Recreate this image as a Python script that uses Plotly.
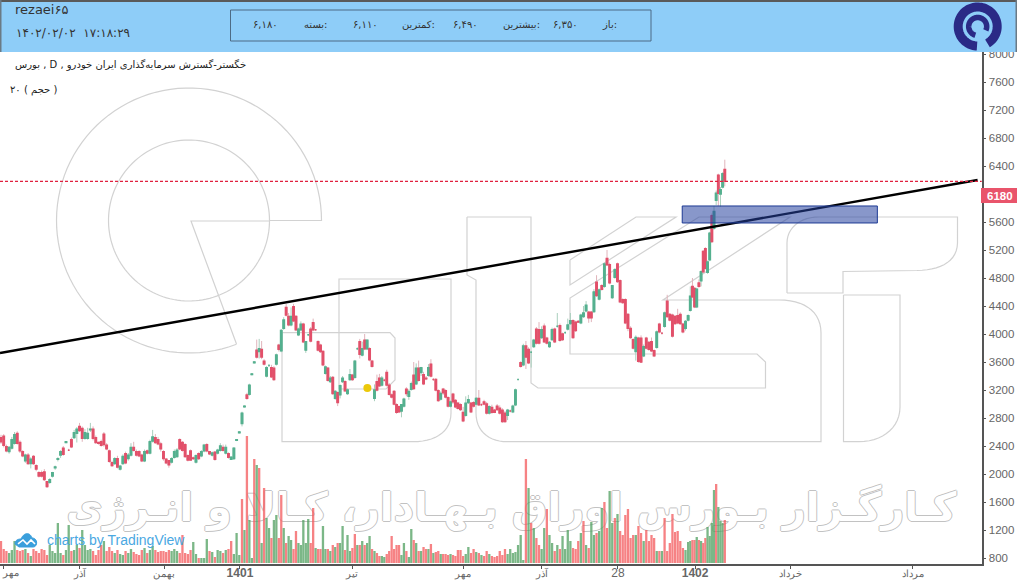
import numpy as np
import plotly.graph_objects as go

W, H = 1017, 583
PLOT_L, PLOT_R, PLOT_T, PLOT_B = 0, 981.7, 52, 564

# Daily candles, oldest first (prices in rials)
open_px = [
    2520,2540,2390,2320,2370,2440,2580,2450,2320,2190,
    2270,2150,2250,2120,2020,2020,2030,1890,1880,1970,
    2090,2210,2270,2370,2450,2340,2490,2520,2580,2680,
    2650,2510,2510,2630,2640,2520,2450,2460,2570,2410,
    2330,2160,2150,2220,2070,2150,2290,2220,2270,2380,
    2320,2320,2270,2190,2330,2300,2470,2520,2490,2430,
    2320,2210,2190,2170,2240,2250,2490,2450,2420,2260,
    2330,2230,2170,2290,2260,2330,2420,2320,2270,2310,
    2300,2340,2380,2300,2290,2210,2220,2480,2590,
    2720,2960,3130,3140,3420,3590,3770,3750,3780,3610,
    3400,3550,3520,3510,3570,3840,3760,4080,4380,4250,
    4130,4390,4250,3990,4060,4140,3770,3990,4070,4160,
    4060,3890,3840,3750,3440,3510,3320,3380,3080,3160,
    3130,3320,3320,3150,3350,3410,3380,3790,3890,3700,
    3910,3790,3790,3610,3080,3320,3370,3270,3340,3450,
    3270,3130,3180,2990,2960,2900,2970,3210,3110,3210,
    3410,3290,3510,3450,3420,3370,3410,3570,3350,3350,
    3190,3070,3210,3190,3090,2970,3140,3050,3010,
    2990,2880,2840,3020,3010,3020,3000,3080,2990,3030,
    3000,2870,2950,2910,2970,2940,2910,2870,2840,2900,
    2890,2990,3350,3590,3560,3830,3780,3740,3820,4070,
    4060,3950,4110,3940,3820,3920,4070,4110,4120,4000,
    4020,4070,4150,4190,4170,4180,4160,4250,4330,4310,
    4310,4320,4740,4500,4690,4680,5080,4990,4520,4810,
    5000,4760,4490,4490,4280,4080,3920,3750,3940,3940,
    3690,3940,3880,3890,3760,3810,4140,4010,4110,4470,
    4280,4270,4250,4260,4280,4140,4080,4200,
    4340,4680,4650,4390,4730,4760,5180,5220,4880,5060,
    5690,5510,5910,6270,6000,6100,6350,
]
high_px = [
    2560,2570,2420,2400,2530,2600,2610,2480,2340,2290,
    2300,2240,2270,2140,2040,2050,2070,1900,1940,2030,
    2120,2240,2340,2400,2470,2360,2520,2630,2670,2730,
    2680,2640,2660,2730,2680,2550,2460,2490,2600,2440,
    2350,2190,2240,2260,2130,2280,2320,2300,2440,2460,
    2350,2340,2290,2350,2350,2490,2630,2570,2530,2460,
    2340,2230,2200,2240,2350,2370,2510,2470,2440,2280,
    2350,2250,2280,2310,2340,2430,2440,2330,2320,2330,
    2360,2440,2420,2420,2310,2250,2380,2500,2610,
    2890,2980,3160,3290,3440,3610,3920,3930,3900,3640,
    3540,3570,3560,3540,3720,3860,4070,4240,4430,4300,
    4380,4430,4270,4090,4180,4160,3900,4000,4100,4220,
    4070,3910,3860,3770,3550,3530,3400,3400,3200,3180,
    3280,3400,3340,3220,3500,3430,3630,3810,3930,3890,
    4000,3920,3810,3630,3280,3420,3430,3400,3360,3490,
    3300,3150,3200,3010,2980,3000,3090,3240,3210,3320,
    3600,3580,3620,3530,3460,3400,3570,3640,3370,3370,
    3210,3180,3230,3210,3110,3050,3160,3070,3030,
    3010,2960,3110,3130,3030,3040,3100,3200,3010,3060,
    3030,2980,2990,2930,3000,2980,2940,2900,2930,2920,
    2990,3220,3360,3610,3860,3900,3810,3760,3930,4100,
    4170,4110,4150,3960,3900,4090,4090,4300,4150,4020,
    4040,4220,4300,4210,4190,4200,4290,4400,4470,4330,
    4330,4640,4840,4650,4710,5020,5200,5020,4700,4940,
    5020,4780,4510,4510,4300,4110,3940,3980,3960,3980,
    3850,3960,3900,3950,3780,4050,4160,4030,4320,4560,
    4300,4290,4270,4360,4310,4160,4200,4280,
    4680,4800,4670,4660,4780,4910,5200,5240,5050,5460,
    5720,5830,6050,6290,6100,6310,6490,
]
low_px = [
    2430,2380,2310,2290,2350,2420,2420,2300,2240,2160,
    2130,2080,2130,2040,1950,1950,1900,1800,1860,1950,
    2060,2180,2230,2260,2440,2330,2370,2500,2450,2600,
    2460,2490,2490,2600,2480,2430,2420,2390,2390,2340,
    2160,2100,2130,2080,2050,2130,2140,2190,2250,2320,
    2250,2240,2170,2170,2280,2280,2450,2430,2410,2320,
    2190,2140,2090,2150,2220,2230,2340,2320,2230,2180,
    2190,2200,2150,2200,2240,2310,2310,2270,2250,2190,
    2280,2320,2320,2280,2220,2200,2200,2470,2580,
    2680,2950,3060,3120,3410,3580,3650,3650,3640,3550,
    3380,3530,3370,3330,3550,3750,3740,4060,4250,4110,
    4110,4170,4040,3970,4040,3870,3730,3970,3880,4040,
    4050,3750,3730,3540,3420,3320,3300,3130,3060,2970,
    3080,3300,3170,3130,3330,3330,3360,3770,3650,3680,
    3770,3770,3610,3520,3040,3180,3240,3250,3320,3250,
    3120,3080,2980,2860,2870,2810,2950,3110,3060,3190,
    3200,3270,3320,3400,3270,3340,3390,3380,3330,3180,
    3030,3050,3130,3080,2950,2950,3000,2940,2920,
    2900,2740,2820,3000,2870,2950,2980,2970,2970,2980,
    2850,2850,2860,2870,2900,2850,2730,2730,2770,2880,
    2870,2970,3340,3520,3540,3500,3570,3520,3800,3850,
    3850,3930,3870,3850,3800,3900,3870,4090,3890,3900,
    4000,4050,4130,3930,4030,4160,4140,4230,4310,4160,
    4170,4300,4530,4480,4620,4660,4970,4710,4500,4790,
    4730,4440,4430,4140,4040,3930,3780,3620,3590,3590,
    3670,3780,3760,3740,3670,3790,4010,3990,4090,4230,
    4180,3950,4130,4140,4130,4010,4050,4180,
    4320,4510,4370,4370,4660,4680,4870,4920,4860,5040,
    5300,5490,5840,5830,5820,6080,6110,
]
close_px = [
    2460,2410,2330,2380,2490,2560,2440,2330,2260,2270,
    2150,2210,2150,2070,1970,1970,1920,1820,1920,2020,
    2100,2220,2320,2280,2460,2340,2390,2590,2640,2620,
    2510,2590,2580,2640,2510,2450,2440,2410,2420,2360,
    2180,2120,2220,2100,2110,2250,2160,2270,2380,2340,
    2270,2260,2190,2320,2300,2460,2530,2450,2430,2360,
    2220,2160,2130,2220,2320,2340,2360,2340,2250,2200,
    2200,2220,2260,2220,2320,2410,2330,2290,2300,2210,
    2340,2400,2340,2380,2240,2240,2370,2490,2600,
    2870,2970,3080,3270,3430,3600,3670,3790,3670,3570,
    3520,3550,3390,3350,3700,3780,4050,4200,4270,4130,
    4250,4190,4060,4070,4140,3890,3890,3990,3900,4060,
    4060,3770,3750,3560,3530,3340,3370,3150,3180,3020,
    3260,3370,3190,3200,3420,3350,3610,3790,3710,3790,
    3790,3910,3630,3540,3200,3200,3260,3370,3340,3270,
    3140,3100,3000,2880,2890,2990,3070,3150,3180,3290,
    3220,3510,3340,3520,3290,3360,3520,3400,3350,3200,
    3050,3150,3160,3100,2970,3030,3030,2960,2940,
    2920,2760,3010,3060,2890,2970,3080,2990,2990,3000,
    2870,2960,2880,2880,2920,2870,2750,2750,2910,2900,
    2970,3200,3350,3540,3830,3670,3590,3740,3910,3870,
    3870,4060,3890,3870,3880,4060,3890,4110,3910,3920,
    4020,4130,4190,3950,4050,4170,4270,4300,4410,4230,
    4230,4600,4550,4630,4640,5000,4990,4730,4690,4920,
    4750,4460,4450,4160,4080,3950,3800,3950,3610,3600,
    3820,3800,3780,3760,3690,4030,4030,4010,4300,4250,
    4200,3970,4150,4160,4150,4030,4180,4260,
    4540,4530,4390,4640,4680,4890,4890,4940,5030,5440,
    5320,5750,6010,6010,6060,6290,6180,
]
# Traded volume per session, in millions of shares
volume = [
    22,14,12,10,13,22,13,12,13,14, 10,7,14,12,10,14,13,8,18,12,
    10,40,10,8,13,38,12,13,18,15, 33,18,13,14,12,8,13,18,22,12,
    16,12,10,13,9,8,12,10,14,11, 9,8,13,15,10,13,17,13,11,12,
    12,11,13,12,14,12,10,28,10,9, 13,21,9,5,5,5,24,12,11,6,
    13,12,10,13,14,22,9,30,8,
    64,33,127,43,5,104,98,95,20,75, 45,35,25,43,48,25,68,35,20,27,
    23,14,32,20,18,43,20,44,20,55, 15,14,14,37,14,14,12,18,16,20,20,
    37,13,28,12,15,29,18,18,22,18, 20,27,14,12,10,7,7,6,9,12,
    27,14,18,18,8,20,12,6,34,23, 20,12,12,16,14,14,19,10,11,12,
    9,9,9,8,9,8,7,13,
    13,7,9,16,10,14,11,10,8,7, 12,9,7,6,7,12,8,14,9,14,
    10,11,18,28,3,104,75,40,35,25, 18,14,35,54,28,20,12,18,14,27,
    14,33,22,15,14,22,30,42,18,15, 41,28,30,32,55,61,35,72,40,45,
    49,32,28,48,54,25,28,28,37,30, 22,33,22,28,25,12,12,12,45,12,
    20,49,31,32,22,15,13,
    21,22,23,23,26,23,22,20,25,36, 27,40,73,79,56,42,40,43,
]
# Sessions whose volume bar colour differs from the candle direction
volume_green = [21,25,30,38,53,71,76,87,90,92,95,97,99,102,103,108,114,116,122,130,
                132,138,141,158,181,201,204,210,212,217,219,228,232,235,238,274,276,279,281]
volume_red = [67,85,89,91,94,96,98,105,111,118,135,150,166,203,205,211,225,233,237,241,
              242,246,249,256,259,278]

# Bar spacing is not even over the period because of market closures
session_anchor_bar = [0, 89, 177, 265, 282]
session_anchor_pos = [0, 94, 178.2, 268, 282.3]

# Time axis labels
BIG = '<span style="font-size:12px">{}</span>'
tick_sessions = [0.8, 30.8, 63.6, 93.2, 136.9, 180.2, 211, 240.6, 270.7, 308.1, 355.7]
tick_labels = [" ", "آذر", "بهمن", BIG.format("<b>1401</b>"), "تیر", "مهر", "آذر", BIG.format("28"),
               BIG.format("<b>1402</b>"), "خرداد", "مرداد"]
price_ticks = list(range(800, 8001, 400))

# Drawn analysis objects
trend_sessions = [-0.39, 380.9]
trend_prices = [3729, 6200]
zone_sessions = [265.7, 341.8]
zone_prices = [5586, 5829]
last_price = 6180
event_session, event_price = 142.9, 3229

GREEN_BODY, RED_BODY = "#54b08f", "#e2506a"
GREEN_WICK, RED_WICK = "#a9cfbd", "#e0b4bb"
GREEN_VOL, RED_VOL = "#4f9f5f", "#f4595c"
WM = "#d2d2d2"

assert len(open_px) == len(high_px) == len(low_px) == len(close_px) == len(volume)
sessions = np.interp(np.arange(len(open_px)), session_anchor_bar, session_anchor_pos)


def px(x):
    return x / W


def py(y):
    return 1 - y / H


def poly(points, close=False):
    s = "M" + " L".join(f"{px(x):.5f},{py(y):.5f}" for x, y in points)
    return s + (" Z" if close else "")


def arc_pts(cx, cy, r, a0, a1, n=90):
    t = np.radians(np.linspace(a0, a1, n))
    return list(zip(cx + r * np.cos(t), cy + r * np.sin(t)))


def outline(points, color=WM, width=1.2, fill=None, close=False):
    d = dict(type="path", path=poly(points, close), xref="paper", yref="paper",
             line=dict(color=color, width=width), layer="below")
    if fill:
        d["fillcolor"] = fill
    return d


def bez(p0, c1, c2, p1, n=14):
    t = np.linspace(0, 1, n)[:, None]
    p0, c1, c2, p1 = map(np.array, (p0, c1, c2, p1))
    pts = (1 - t) ** 3 * p0 + 3 * (1 - t) ** 2 * t * c1 + 3 * (1 - t) * t ** 2 * c2 + t ** 3 * p1
    return [tuple(p) for p in pts]


# Outlined logotype behind the candles
shapes = []
gx, gy = 189, 220.5
shapes.append(outline([(321, 220.5)] + arc_pts(gx, gy, 132.5, 0, -291)))
shapes.append(outline(arc_pts(gx, gy, 80.5, 0, 360, n=140)))
shapes.append(outline([(269.5, 220.5), (321, 220.5)]))
shapes.append(outline([(269.5, 221), (191, 221), (236.5, 344)]))
letter_d = ([(339, 389), (339, 279), (451, 279), (451, 413)]
            + bez((451, 413), (451, 432), (435, 441.7), (413, 441.7))
            + [(282, 441.7), (282, 332.7), (390, 332.7), (395, 338), (395, 380), (386, 389), (339, 389), (339, 332.7)])
shapes.append(outline(letter_d))
letter_s = ([(467, 217), (467, 275), (476, 280), (476, 413)]
            + bez((476, 413), (476, 432), (490, 441.7), (507, 441.7))
            + [(821, 441.7), (821, 333)]
            + bez((821, 333), (821, 312), (805, 300), (779, 300))
            + [(663, 300), (790, 217), (699, 217), (570, 298), (570, 354), (757, 354), (765.5, 362), (765.5, 388),
               (538, 388), (531, 383), (531, 217), (467, 217)])
shapes.append(outline(letter_s))
shapes.append(outline([(570, 260), (636, 217), (676, 217), (570, 285), (570, 260)]))
letter_t = ([(787, 293), (787, 243)] + bez((787, 243), (787, 228), (800, 217), (819, 217))
            + [(957.5, 217), (957.5, 243)] + bez((957.5, 243), (957, 262), (940, 270), (917, 270.5))
            + [(843, 271.5), (843, 293), (787, 293)])
shapes.append(outline(letter_t))
stem = ([(843.5, 295), (900, 295), (900, 407)] + bez((900, 407), (900, 428), (882, 441.7), (859, 441.7))
        + [(843.5, 441.7), (843.5, 295)])
shapes.append(outline(stem))

# Support zone and last-price guide
shapes.append(dict(type="rect", xref="x", yref="y", x0=zone_sessions[0], x1=zone_sessions[1],
                   y0=zone_prices[0], y1=zone_prices[1], fillcolor="rgba(38,66,158,0.55)",
                   line=dict(color="#1d3a94", width=1), layer="above"))
shapes.append(dict(type="line", xref="paper", yref="y", x0=0, x1=PLOT_R / W, y0=last_price, y1=last_price,
                   line=dict(color="#e0203f", width=1.4, dash="3px,2px"), layer="above"))
shapes.append(dict(type="rect", xref="paper", yref="paper", x0=px(981), x1=1, y0=py(203), y1=py(188),
                   fillcolor="#e9546b", line=dict(width=0), layer="above"))

# Header band
shapes.append(dict(type="rect", xref="paper", yref="paper", x0=0, x1=1, y0=py(52), y1=1,
                   fillcolor="#8ecdf8", line=dict(width=0), layer="above"))
shapes.append(dict(type="rect", xref="paper", yref="paper", x0=0, x1=1, y0=py(2), y1=1,
                   fillcolor="#5a5a5a", line=dict(width=0), layer="above"))
shapes.append(dict(type="rect", xref="paper", yref="paper", x0=0, x1=px(1.5), y0=py(52), y1=1,
                   fillcolor="#6a7a85", line=dict(width=0), layer="above"))
shapes.append(dict(type="rect", xref="paper", yref="paper", x0=px(1015.5), x1=1, y0=py(52), y1=1,
                   fillcolor="#6a7a85", line=dict(width=0), layer="above"))
shapes.append(dict(type="rect", xref="paper", yref="paper", x0=px(230.5), x1=px(651), y0=py(41), y1=py(10),
                   line=dict(color="#4d6b85", width=1), layer="above"))
# Broker emblem
for r, w, a0, a1 in [(19.5, 9, 60, -268), (9, 5.5, 25, -255)]:
    e = outline(arc_pts(977.7, 26.5, r, a0, a1), color="#2a2a86", width=w)
    e["layer"] = "above"
    shapes.append(e)

# TradingView cloud mark
cloud = (bez((15, 544), (15, 539), (20, 539), (21, 539)) + bez((21, 539), (24, 532), (30, 532), (32, 538))
         + bez((32, 538), (38, 538), (38, 547), (33, 547)) + [(19, 547)])
c = outline(cloud, color="#3a9fdc", width=1, fill="#3a9fdc", close=True)
c["layer"] = "above"
shapes.append(c)
z = outline([(18, 544), (23, 540), (27, 544), (31, 540), (35, 544)], color="white", width=1.6)
z["layer"] = "above"
shapes.append(z)


def note(x, y, text, size=10, color="#333333", anchor="left", family="DejaVu Sans"):
    return dict(xref="paper", yref="paper", x=px(x), y=py(y), text=text, showarrow=False,
                xanchor=anchor, yanchor="middle", align=anchor,
                font=dict(size=size, color=color, family=family))


RLM = "\u200f"
annotations = [
    note(13, 10, "rezaei۶۵", 13),
    note(14, 33, "۱۴۰۲/۰۲/۰۲  ۱۷:۱۸:۲۹", 12),
    note(265, 24, "۶,۱۸۰", 10, anchor="center"),
    note(315, 24, "بسته:", 10, anchor="center"),
    note(365, 24, "۶,۱۱۰", 10, anchor="center"),
    note(418, 24, "کمترین:", 10, anchor="center"),
    note(465, 24, "۶,۴۹۰", 10, anchor="center"),
    note(521, 24, "بیشترین:", 10, anchor="center"),
    note(565, 24, "۶,۳۵۰", 10, anchor="center"),
    note(609, 24, "باز:", 10, anchor="center"),
    note(248, 65, RLM + "بورس , D , خگستر-گسترش سرمایه‌گذاری ایران خودرو", 10, "#222222", anchor="right"),
    note(59, 90, RLM + "( حجم ) ۲۰", 10, "#222222", anchor="right"),
    note(45, 540, "charts by TradingView", 14, "#4aa8e2", family="Liberation Sans"),
    note(1000, 195.5, "<b>6180</b>", 11.5, "white", anchor="center", family="Liberation Sans"),
    note(0, 573, "مهر", 9.5, "#666666", family="Liberation Sans"),
]

o, c_, h, l = map(np.array, (open_px, close_px, high_px, low_px))
up = c_ >= o
vol_colors = np.where(up, GREEN_VOL, RED_VOL)
vol_colors[volume_green] = GREEN_VOL
vol_colors[volume_red] = RED_VOL

fig = go.Figure()

# Base layer: outlined broker slogan, under the volume and price layers
fig.add_trace(go.Scatter(
    x=[199], y=[1470], mode="text", yaxis="y",
    text=[RLM + "کـارگـزار بـورس اوراق بـهـادار، کـالا و انـرژی"],
    textposition="middle center",
    textfont=dict(family="DejaVu Sans", size=40, color="white", weight="bold",
                  shadow="1px 0 0 #c2c2c2, -1px 0 0 #c2c2c2, 0 1px 0 #c2c2c2, 0 -1px 0 #c2c2c2"),
    hoverinfo="skip", showlegend=False))

fig.add_trace(go.Bar(
    x=sessions, y=volume, width=0.9, marker=dict(color=vol_colors, line=dict(width=0)),
    opacity=0.75, yaxis="y2", hoverinfo="skip", showlegend=False))

# Wicks and bodies are separate so the wicks can be paler than the bodies
fig.add_trace(go.Candlestick(
    x=sessions, open=o, high=h, low=l, close=c_, yaxis="y3", whiskerwidth=0,
    increasing=dict(line=dict(color=GREEN_WICK, width=1), fillcolor=GREEN_WICK),
    decreasing=dict(line=dict(color=RED_WICK, width=1), fillcolor=RED_WICK),
    hoverinfo="skip", showlegend=False))
fig.add_trace(go.Candlestick(
    x=sessions, open=o, high=np.maximum(o, c_), low=np.minimum(o, c_), close=c_, yaxis="y3", whiskerwidth=0,
    increasing=dict(line=dict(color=GREEN_BODY, width=1.4), fillcolor=GREEN_BODY),
    decreasing=dict(line=dict(color=RED_BODY, width=1.4), fillcolor=RED_BODY),
    hoverinfo="skip", showlegend=False))

fig.add_trace(go.Scatter(x=trend_sessions, y=trend_prices, mode="lines", yaxis="y3",
                         line=dict(color="#000000", width=2.4), hoverinfo="skip", showlegend=False))
fig.add_trace(go.Scatter(x=[event_session], y=[event_price], mode="markers", yaxis="y3",
                         marker=dict(size=8, color="#ecc90a", line=dict(width=0)),
                         hoverinfo="skip", showlegend=False))

dom_y = [1 - PLOT_B / H, 1 - PLOT_T / H]
price_range = [714.3, 8028.6]
fig.update_layout(
    width=W, height=H, autosize=False,
    margin=dict(l=0, r=0, t=0, b=0, pad=0, autoexpand=False),
    paper_bgcolor="white", plot_bgcolor="white",
    boxgap=0, barmode="overlay", dragmode=False, showlegend=False,
    xaxis=dict(domain=[0, PLOT_R / W], range=[-0.39, 382.5], rangeslider=dict(visible=False),
               tickmode="array", tickvals=tick_sessions, ticktext=tick_labels,
               ticks="outside", ticklen=3, tickcolor="#555555", tickwidth=1,
               ticklabelstandoff=-3,
               showline=True, linecolor="#555555", linewidth=1.5, showgrid=False, zeroline=False,
               tickangle=0, tickfont=dict(family="Liberation Sans", size=9.5, color="#666666")),
    yaxis=dict(domain=dom_y, range=price_range, side="right", tickmode="array", tickvals=price_ticks,
               ticks="outside", ticklen=3, tickcolor="#555555", tickwidth=1,
               showline=True, linecolor="#555555", linewidth=1.5, showgrid=False, zeroline=False,
               tickfont=dict(family="Liberation Sans", size=11.5, color="#666666")),
    yaxis2=dict(domain=dom_y, range=[-1, 511], overlaying="y", visible=False, fixedrange=True),
    yaxis3=dict(domain=dom_y, range=price_range, overlaying="y", visible=False, fixedrange=True),
    shapes=shapes, annotations=annotations,
)

fig.write_html("out.html")
